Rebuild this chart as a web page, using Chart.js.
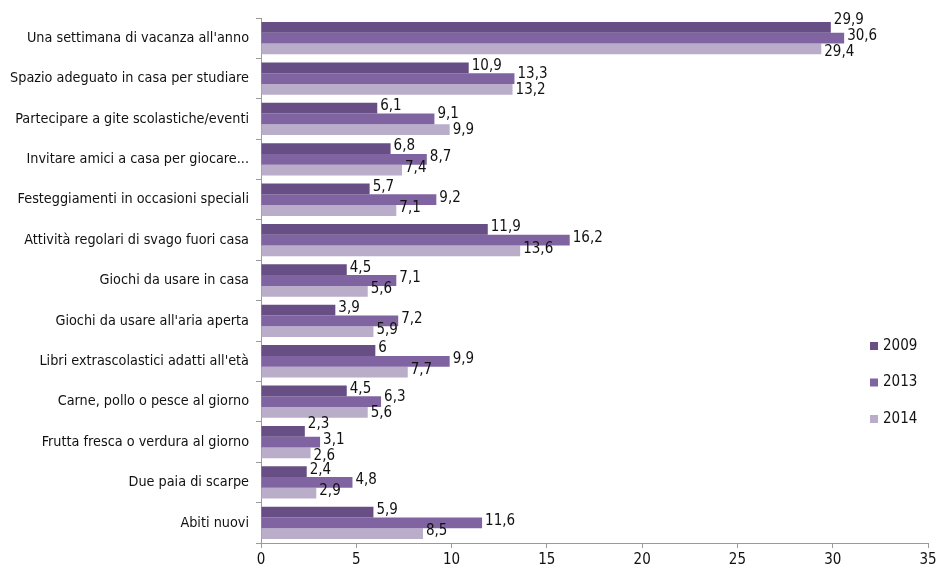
<!DOCTYPE html>
<html>
<head>
<meta charset="utf-8">
<script src="https://cdn.jsdelivr.net/npm/chart.js@4.4.1/dist/chart.umd.min.js"></script>
<style>
  html, body { margin: 0; padding: 0; background: #fff; }
  #wrap { width: 936px; height: 569px; position: relative; }
</style>
</head>
<body>
<div id="wrap"><canvas id="bar-chartcanvas"></canvas></div>
<script>
// categories and values per year
var categories = [
    "Una settimana di vacanza all'anno",
    "Spazio adeguato in casa per studiare",
    "Partecipare a gite scolastiche/eventi",
    "Invitare amici a casa per giocare...",
    "Festeggiamenti in occasioni speciali",
    "Attività regolari di svago fuori casa",
    "Giochi da usare in casa",
    "Giochi da usare all'aria aperta",
    "Libri extrascolastici adatti all'età",
    "Carne, pollo o pesce al giorno",
    "Frutta fresca o verdura al giorno",
    "Due paia di scarpe",
    "Abiti nuovi"
];
var years = ["2009", "2013", "2014"];
var values2009 = [29.9, 10.9, 6.1, 6.8, 5.7, 11.9, 4.5, 3.9, 6, 4.5, 2.3, 2.4, 5.9];
var values2013 = [30.6, 13.3, 9.1, 8.7, 9.2, 16.2, 7.1, 7.2, 9.9, 6.3, 3.1, 4.8, 11.6];
var values2014 = [29.4, 13.2, 9.9, 7.4, 7.1, 13.6, 5.6, 5.9, 7.7, 5.6, 2.6, 2.9, 8.5];
var xTicks = [0, 5, 10, 15, 20, 25, 30, 35];

var colors = ["#674f86", "#8064a2", "#b9adca"];
var fontFamily = "'Liberation Sans Narrow', 'DejaVu Sans Condensed', sans-serif";

//value labels at the end of each bar, spread apart when they collide
var valueLabels = {
    id: "valueLabels",
    afterDatasetsDraw: function(chart) {
        var ctx = chart.ctx;
        ctx.save();
        ctx.font = "15px " + fontFamily;
        ctx.fillStyle = "#111";
        ctx.textBaseline = "middle";
        ctx.textAlign = "left";
        var gap = 16;
        for (var i = 0; i < categories.length; i++) {
            var items = [];
            chart.data.datasets.forEach(function(ds, d) {
                var bar = chart.getDatasetMeta(d).data[i];
                var txt = String(ds.data[i]).replace(".", ",");
                var w = ctx.measureText(txt).width;
                items.push({ txt: txt, x: bar.x + 3, w: w, y: bar.y - 2 });
            });
            // group labels whose horizontal extents overlap
            var clusters = [[items[0]]];
            for (var k = 1; k < items.length; k++) {
                var last = clusters[clusters.length - 1];
                var prev = last[last.length - 1];
                var overlap = items[k].x < prev.x + prev.w && prev.x < items[k].x + items[k].w;
                if (overlap && items[k].y - prev.y < gap) last.push(items[k]);
                else clusters.push([items[k]]);
            }
            clusters.forEach(function(cl) {
                if (cl.length < 2) return;
                var mean = cl.reduce(function(s, it) { return s + it.y; }, 0) / cl.length;
                cl.forEach(function(it, j) { it.y = mean + (j - (cl.length - 1) / 2) * gap; });
            });
            items.forEach(function(it) { ctx.fillText(it.txt, it.x, it.y); });
        }
        ctx.restore();
    }
};

//legend drawn inside the plot, lower right
var sideLegend = {
    id: "sideLegend",
    afterDraw: function(chart) {
        var ctx = chart.ctx;
        ctx.save();
        ctx.font = "15px " + fontFamily;
        ctx.textBaseline = "middle";
        ctx.textAlign = "left";
        var x = chart.chartArea.right - 58;
        var y0 = 346;
        chart.data.datasets.forEach(function(ds, d) {
            var y = y0 + d * 36.5;
            ctx.fillStyle = ds.backgroundColor;
            ctx.fillRect(x, y - 4, 8, 8);
            ctx.fillStyle = "#111";
            ctx.fillText(ds.label, x + 13, y);
        });
        ctx.restore();
    }
};

var data = {
    labels: categories,
    datasets: [
        { label: years[0], data: values2009, backgroundColor: colors[0] },
        { label: years[1], data: values2013, backgroundColor: colors[1] },
        { label: years[2], data: values2014, backgroundColor: colors[2] }
    ]
};

var options = {
    indexAxis: "y",
    responsive: true,
    maintainAspectRatio: false,
    animation: false,
    layout: { padding: { top: 18, right: 0, left: 0, bottom: 0 } },
    datasets: { bar: { barPercentage: 1, categoryPercentage: 0.8, borderWidth: 0 } },
    plugins: { legend: { display: false }, tooltip: { enabled: false } },
    scales: {
        x: {
            min: 0,
            max: 35,
            afterBuildTicks: function(scale) {
                scale.ticks = xTicks.map(function(v) { return { value: v }; });
            },
            afterFit: function(scale) {
                scale.height = 26;
                scale.paddingRight = 8;
            },
            grid: { drawOnChartArea: false, tickLength: 5, color: "#9a9a9a" },
            border: { color: "#9a9a9a" },
            ticks: { color: "#111", padding: 3, maxRotation: 0, font: { family: fontFamily, size: 15 } }
        },
        y: {
            afterFit: function(scale) { scale.width = 261; },
            grid: { drawOnChartArea: false, tickLength: 5, color: "#9a9a9a", offset: true },
            border: { color: "#9a9a9a" },
            ticks: { color: "#111", padding: 7, autoSkip: false, font: { family: fontFamily, size: 14.3 } }
        }
    }
};

var chart1 = new Chart(document.getElementById("bar-chartcanvas"), {
    type: "bar",
    data: data,
    options: options,
    plugins: [valueLabels, sideLegend]
});
</script>
</body>
</html>
